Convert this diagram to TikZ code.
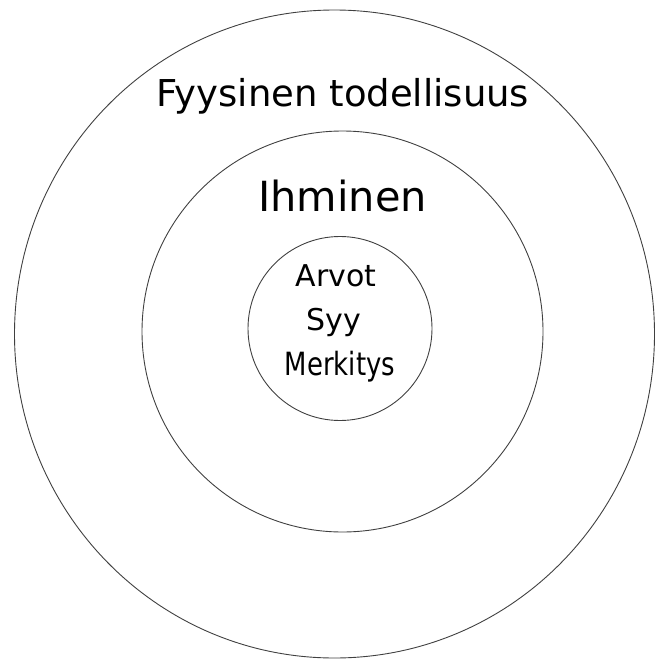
\documentclass[tikz,border=0pt]{standalone}
\usepackage{fontspec}
\setmainfont{DejaVu Sans}
\usetikzlibrary{positioning}

\begin{document}
\begin{tikzpicture}[x=1pt,y=-1pt,ring/.style = {draw=black!75, line width=0.9pt},word/.style = {anchor=base, inner sep=0pt},]
\useasboundingbox (0,0) rectangle (655,661);
\draw[ring] (334.5,334) ellipse (320pt and 324pt);
\draw[ring] (342.5,331.5) circle (200.5pt);
\draw[ring] (340,328.5) circle (92pt);
\node (fyys) at (343,106.7)[word] {\fontsize{37}{44}\selectfont Fyysinen todellisuus};
\node (ihm) at (342.5,211.7)[word] {\fontsize{41.5}{50}\selectfont Ihminen};
\node (arvot) at (336,286.7)[word] {\fontsize{30}{36}\selectfont Arvot};
\node (syy) at (333.5,330)[word] {\fontsize{30}{36}\selectfont Syy};
\node (merk) at (340,375)[word] {\scalebox{0.81}[1]{\fontsize{32}{38}\selectfont Merkitys}};
\end{tikzpicture}
\end{document}
